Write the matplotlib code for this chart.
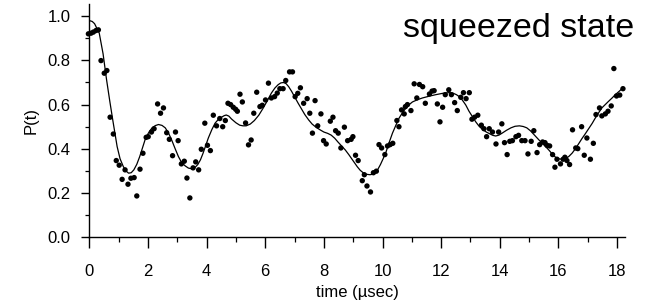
import matplotlib
matplotlib.use("Agg")
import matplotlib.pyplot as plt
from matplotlib.ticker import MultipleLocator, FormatStrFormatter

plt.rcParams['font.family'] = ['Liberation Sans', 'DejaVu Sans']

# measured data points
t_data = [-0.03, 0.06, 0.14, 0.23, 0.31, 0.40, 0.51, 0.60, 0.71, 0.82, 0.92, 1.02, 1.12, 1.22,
          1.32, 1.42, 1.53, 1.62, 1.73, 1.83, 1.94, 2.01, 2.12, 2.21, 2.33, 2.43, 2.53, 2.64,
          2.73, 2.84, 2.94, 3.03, 3.14, 3.24, 3.33, 3.43, 3.54, 3.63, 3.73, 3.82, 3.94, 4.03,
          4.13, 4.23, 4.34, 4.45, 4.55, 4.64, 4.73, 4.82, 4.91, 4.99, 5.05, 5.14, 5.22, 5.33,
          5.43, 5.52, 5.61, 5.71, 5.82, 5.90, 6.01, 6.11, 6.21, 6.32, 6.41, 6.50, 6.61, 6.70,
          6.83, 6.93, 7.02, 7.11, 7.20, 7.31, 7.43, 7.52, 7.61, 7.70, 7.79, 7.90, 7.99, 8.08,
          8.22, 8.31, 8.40, 8.49, 8.58, 8.70, 8.81, 8.93, 8.99, 9.08, 9.17, 9.31, 9.38, 9.47,
          9.59, 9.69, 9.79, 9.88, 9.97, 10.08, 10.17, 10.26, 10.35, 10.49, 10.56, 10.65, 10.74,
          10.78, 10.85, 10.97, 11.08, 11.17, 11.26, 11.37, 11.46, 11.60, 11.69, 11.76, 11.87,
          11.96, 12.05, 12.14, 12.26, 12.35, 12.46, 12.55, 12.67, 12.76, 12.85, 12.96, 13.05,
          13.14, 13.25, 13.37, 13.46, 13.55, 13.64, 13.75, 13.87, 13.96, 14.07, 14.16, 14.25,
          14.34, 14.43, 14.55, 14.64, 14.75, 14.86, 14.96, 15.07, 15.16, 15.27, 15.36, 15.46,
          15.54, 15.61, 15.70, 15.80, 15.88, 15.95, 16.07, 16.16, 16.22, 16.29, 16.38, 16.48,
          16.59, 16.66, 16.79, 16.88, 16.97, 17.09, 17.19, 17.28, 17.40, 17.48, 17.60, 17.69,
          17.80, 17.89, 17.98, 18.09, 18.20]
p_data = [0.920, 0.923, 0.928, 0.935, 0.938, 0.799, 0.742, 0.754, 0.543, 0.467, 0.347, 0.326,
          0.262, 0.305, 0.240, 0.267, 0.270, 0.187, 0.308, 0.380, 0.452, 0.455, 0.476, 0.491,
          0.603, 0.561, 0.585, 0.473, 0.443, 0.369, 0.476, 0.437, 0.332, 0.344, 0.268, 0.178,
          0.314, 0.341, 0.305, 0.398, 0.516, 0.416, 0.392, 0.552, 0.504, 0.537, 0.500, 0.528,
          0.606, 0.600, 0.588, 0.579, 0.570, 0.647, 0.612, 0.517, 0.418, 0.440, 0.561, 0.656,
          0.591, 0.597, 0.621, 0.697, 0.630, 0.636, 0.652, 0.672, 0.672, 0.709, 0.748, 0.748,
          0.636, 0.651, 0.676, 0.606, 0.627, 0.561, 0.471, 0.618, 0.504, 0.558, 0.437, 0.422,
          0.525, 0.543, 0.482, 0.471, 0.404, 0.498, 0.437, 0.443, 0.455, 0.371, 0.347, 0.256,
          0.283, 0.232, 0.205, 0.292, 0.299, 0.419, 0.404, 0.374, 0.413, 0.419, 0.425, 0.528,
          0.500, 0.576, 0.558, 0.591, 0.600, 0.573, 0.694, 0.630, 0.691, 0.681, 0.606, 0.648,
          0.661, 0.663, 0.603, 0.522, 0.588, 0.645, 0.667, 0.645, 0.609, 0.573, 0.633, 0.654,
          0.627, 0.654, 0.534, 0.543, 0.552, 0.507, 0.491, 0.455, 0.491, 0.476, 0.422, 0.476,
          0.513, 0.428, 0.374, 0.434, 0.437, 0.455, 0.461, 0.437, 0.437, 0.377, 0.434, 0.482,
          0.383, 0.419, 0.431, 0.428, 0.416, 0.413, 0.374, 0.317, 0.353, 0.332, 0.353, 0.362,
          0.347, 0.329, 0.486, 0.404, 0.401, 0.500, 0.371, 0.449, 0.353, 0.425, 0.555, 0.585,
          0.549, 0.558, 0.570, 0.594, 0.763, 0.639, 0.643, 0.672]

# fitted curve
t_fit = [0.00, 0.10, 0.18, 0.34, 0.47, 0.59, 0.70, 0.80, 0.95, 1.05, 1.16, 1.25, 1.34, 1.43, 1.52,
         1.62, 1.72, 1.81, 1.90, 2.01, 2.13, 2.25, 2.36, 2.48, 2.59, 2.70, 2.81, 2.93, 3.04,
         3.15, 3.27, 3.38, 3.49, 3.60, 3.70, 3.79, 3.88, 3.97, 4.06, 4.18, 4.29, 4.40, 4.51,
         4.60, 4.67, 4.76, 4.85, 5.00, 5.13, 5.24, 5.35, 5.49, 5.63, 5.78, 5.92, 6.07, 6.21,
         6.33, 6.44, 6.53, 6.62, 6.71, 6.80, 6.90, 7.01, 7.12, 7.23, 7.35, 7.48, 7.60, 7.73,
         7.87, 8.00, 8.13, 8.25, 8.37, 8.48, 8.60, 8.73, 8.85, 8.96, 9.05, 9.14, 9.24, 9.34,
         9.45, 9.57, 9.66, 9.75, 9.84, 9.93, 10.02, 10.12, 10.23, 10.34, 10.46, 10.57, 10.69,
         10.80, 10.91, 11.02, 11.19, 11.36, 11.59, 11.82, 12.05, 12.27, 12.40, 12.52, 12.62,
         12.72, 12.84, 12.95, 13.07, 13.18, 13.29, 13.40, 13.54, 13.67, 13.76, 13.86, 13.97,
         14.08, 14.23, 14.38, 14.52, 14.67, 14.80, 14.92, 15.05, 15.17, 15.29, 15.40, 15.54,
         15.67, 15.78, 15.90, 16.01, 16.12, 16.24, 16.35, 16.47, 16.58, 16.69, 16.80, 16.92,
         17.03, 17.15, 17.26, 17.37, 17.48, 17.60, 17.71, 17.83, 17.94, 18.07, 18.20]
p_fit = [0.980, 0.976, 0.966, 0.923, 0.830, 0.712, 0.615, 0.531, 0.410, 0.355, 0.320, 0.300,
         0.290, 0.292, 0.305, 0.330, 0.365, 0.402, 0.440, 0.470, 0.493, 0.505, 0.510, 0.506,
         0.495, 0.472, 0.440, 0.400, 0.365, 0.338, 0.323, 0.313, 0.310, 0.315, 0.329, 0.350,
         0.380, 0.415, 0.449, 0.487, 0.516, 0.533, 0.543, 0.550, 0.553, 0.548, 0.535, 0.518,
         0.507, 0.504, 0.504, 0.512, 0.528, 0.552, 0.582, 0.617, 0.652, 0.675, 0.690, 0.698,
         0.700, 0.695, 0.681, 0.660, 0.633, 0.607, 0.582, 0.555, 0.531, 0.512, 0.498, 0.486,
         0.476, 0.470, 0.462, 0.448, 0.431, 0.414, 0.395, 0.374, 0.353, 0.335, 0.319, 0.303,
         0.292, 0.285, 0.283, 0.285, 0.292, 0.307, 0.329, 0.355, 0.386, 0.430, 0.471, 0.508,
         0.540, 0.565, 0.585, 0.600, 0.612, 0.622, 0.630, 0.638, 0.645, 0.651, 0.654, 0.652,
         0.645, 0.636, 0.621, 0.598, 0.570, 0.545, 0.522, 0.503, 0.489, 0.476, 0.467, 0.461,
         0.458, 0.462, 0.471, 0.484, 0.495, 0.502, 0.504, 0.501, 0.495, 0.481, 0.464, 0.447,
         0.431, 0.413, 0.395, 0.378, 0.362, 0.355, 0.353, 0.356, 0.365, 0.381, 0.401, 0.423,
         0.446, 0.469, 0.491, 0.515, 0.540, 0.563, 0.585, 0.601, 0.615, 0.630, 0.645, 0.660,
         0.676]

x_ticks = [0, 2, 4, 6, 8, 10, 12, 14, 16, 18]
y_ticks = [0.0, 0.2, 0.4, 0.6, 0.8, 1.0]
title_text = "squeezed state"
x_label = "time (\u00b5sec)"
y_label = "P(t)"

fig = plt.figure(figsize=(6.56, 3.06), dpi=100)
ax = fig.add_axes([0.1361, 0.2245, 0.8171, 0.7625])

ax.plot(t_fit, p_fit, color='black', lw=0.9, zorder=2)
ax.scatter(t_data, p_data, s=15, color='black', edgecolors='none', zorder=3, clip_on=False)

ax.set_xlim(0, 18.28)
ax.set_ylim(0, 1.055)
ax.set_xticks(x_ticks)
ax.set_yticks(y_ticks)
ax.xaxis.set_minor_locator(MultipleLocator(1))
ax.yaxis.set_minor_locator(MultipleLocator(0.1))
ax.yaxis.set_major_formatter(FormatStrFormatter('%.1f'))

for s in ['top', 'right']:
    ax.spines[s].set_visible(False)
for s in ['left', 'bottom']:
    ax.spines[s].set_linewidth(1.0)

ax.tick_params(axis='x', which='major', direction='out', length=8, width=1.0, labelsize=12, pad=11)
ax.tick_params(axis='x', which='minor', direction='out', length=3.5, width=0.9)
ax.tick_params(axis='y', which='major', direction='out', length=6, width=1.0, labelsize=12, pad=7.5)
ax.tick_params(axis='y', which='minor', direction='out', length=3, width=0.9)

ax.set_xlabel(x_label, fontsize=12, labelpad=4.5)
ax.set_ylabel(y_label, fontsize=12, labelpad=6)

ax.text(10.7, 0.906, title_text, fontsize=24.5, ha='left', va='baseline', clip_on=False)

fig.savefig("out.png", dpi=100)
